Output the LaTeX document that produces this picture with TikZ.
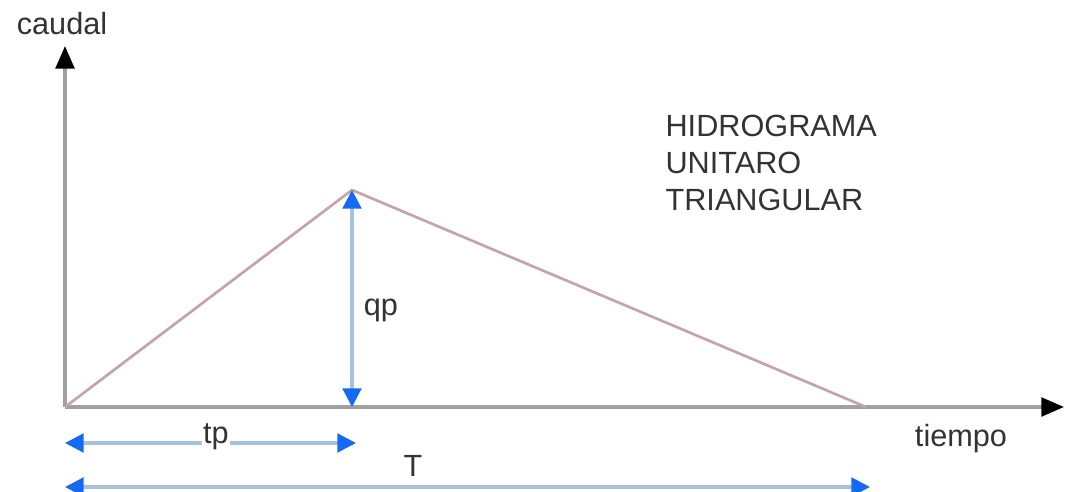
\documentclass[tikz,border=0pt]{standalone}
\usepackage{fontspec}
\setmainfont{Liberation Sans}
\usetikzlibrary{arrows.meta, positioning}
\definecolor{hidro}{RGB}{196,164,170}
\definecolor{axisgray}{RGB}{160,160,160}
\definecolor{dimshaft}{RGB}{166,194,220}
\definecolor{dimhead}{RGB}{20,105,245}

\begin{document}
\begin{tikzpicture}[x=0.75pt, y=-0.75pt,
  axis/.style={draw=axisgray, line width=2.6pt, -{Triangle[length=17pt, width=14pt, color=black]}},
  curve/.style={draw=hidro, line width=2pt},
  dim/.style={draw=dimshaft, line width=2.4pt,
    {Triangle[length=14pt, width=14pt, color=dimhead]}-{Triangle[length=14pt, width=14pt, color=dimhead]}},
  lbl/.style={font=\fontsize{23}{28}\selectfont, text=black!80, inner sep=1pt}]
  \useasboundingbox (0,0) rectangle (1065,492);

  \coordinate (origin) at (65,407);
  \coordinate (ytip) at (65,46);
  \coordinate (xtip) at (1064,407);
  \coordinate (peak) at (352,190);
  \coordinate (tend) at (866,407);
  \coordinate (qpfoot) at (352,407);
  \coordinate (tpleft) at (65,443);
  \coordinate (tpright) at (356,443);
  \coordinate (Tleft) at (65,487);
  \coordinate (Tright) at (870,487);

  % ejes
  \draw[axis] (origin) -- (ytip);
  \draw[axis] (origin) -- (xtip);
  \node[lbl] (caudal) at (62,24) {caudal};
  \node[lbl] (tiempo) at (961,439) {tiempo};

  % hidrograma
  \draw[curve] (origin) -- (peak) -- (tend);

  % cotas
  \draw[dim] (peak) -- (qpfoot);
  \node[lbl] (qp) at (381,310) {qp};
  \draw[dim] (tpleft) -- (tpright);
  \node[lbl, fill=white] (tp) at (216,437) {tp};
  \draw[dim] (Tleft) -- (Tright);
  \node[lbl] (T) at (413,466) {T};

  \node[lbl, align=left, anchor=north west] (titulo) at (664,113)
    {HIDROGRAMA\\UNITARO\\TRIANGULAR};
\end{tikzpicture}
\end{document}
